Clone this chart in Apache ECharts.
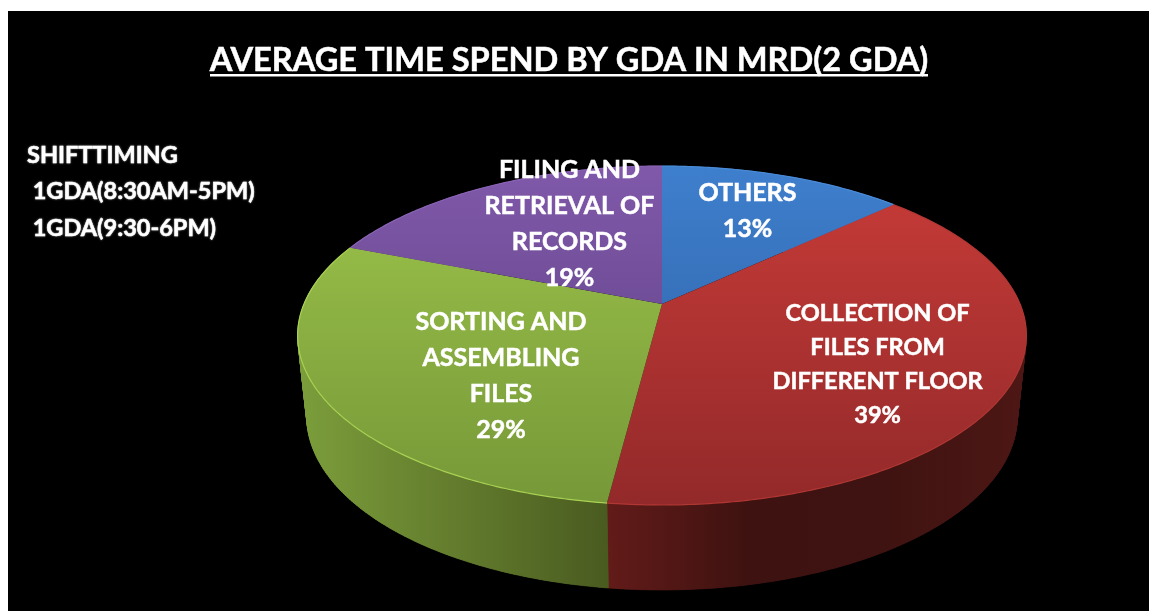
<!DOCTYPE html>
<html><head><meta charset="utf-8">
<style>html,body{margin:0;padding:0;background:#fff}#c{width:1149px;height:611px}</style>
<script src="https://cdn.jsdelivr.net/npm/echarts@6/dist/echarts.min.js"></script>
</head><body><div id="c"></div>
<script>
const titleText = 'AVERAGE TIME SPEND BY GDA IN MRD(2 GDA)';
const noteLines = ['SHIFTTIMING', ' 1GDA(8:30AM-5PM)', ' 1GDA(9:30-6PM)'];
const categories = ['OTHERS', 'COLLECTION OF\nFILES FROM\nDIFFERENT FLOOR', 'SORTING AND\nASSEMBLING\nFILES', 'FILING AND\nRETRIEVAL OF\nRECORDS'];
const values = [13, 39, 29, 19];

// Styling and view geometry, kept apart from the data
const faceColors = [['#3e7fcd','#2d5c9e'],['#c83c38','#93292a'],['#9dc44b','#769838'],['#8059aa','#5a3d7e']];
const wallColors = [['#24497e','#2d5c9e'],['#621b19','#3e1210','#3f1311','#4d1715'],['#7c9e3b','#4a5b20'],['#46305f','#5a3d7e']];
const rimColors = ['#4a8bd8','#b03733','#a9d153','#8a63b5'];
const labelShift = [[8,-47],[14,-55],[35,-53],[18,-78]];
const labelSize = [25,23.6,25,25];
const labelLine = [36,34,36,36];
const view = {cx:662, cy:304, R:358, S:163.6, k:-0.186, wallScale:0.975, wallBase:80, wallTilt:5};
const font = 'Lato, "Open Sans", sans-serif';
const total = values.reduce((a,b)=>a+b,0);

function project(a, r){
  const u = r*Math.sin(a), v = -r*Math.cos(a), w = 1+view.k*v;
  return [view.cx+view.R*u/w, view.cy+view.S*v/w, v];
}
function lower(p){
  return [view.cx+(p[0]-view.cx)*view.wallScale, p[1]+view.wallBase+view.wallTilt*p[2]];
}
function span(i){
  let s=0; for(let j=0;j<i;j++) s+=values[j];
  return [s/total*2*Math.PI,(s+values[i])/total*2*Math.PI];
}
function arc(i){
  const [a,b]=span(i), n=Math.max(8,Math.ceil((b-a)*90)), pts=[];
  for(let t=0;t<=n;t++) pts.push(project(a+(b-a)*t/n,1));
  return pts;
}
function grad(x,y,x2,y2,c){
  return {type:'linear',global:true,x,y,x2,y2,colorStops:c.map((col,j)=>({offset:j/(c.length-1),color:col}))};
}
function renderWall(params){
  const i=params.dataIndex, top=arc(i), xs=top.map(p=>p[0]);
  const fill=grad(Math.min(...xs),0,Math.max(...xs),0,wallColors[i]);
  const children=[{type:'polygon',shape:{points:top.map(p=>[p[0],p[1]]).concat(top.map(lower).reverse())},style:{fill}}];
  for(let t=0;t<top.length-1;t++){
    const p=top[t], q=top[t+1], pl=lower(p), ql=lower(q);
    children.push({type:'polygon',shape:{points:[[p[0],p[1]],[q[0],q[1]],ql,pl]},
      style:{fill,stroke:fill,lineWidth:0.6}});
  }
  return {type:'group',children};
}
function renderFace(params){
  const i=params.dataIndex, top=arc(i), [a,b]=span(i), m=project((a+b)/2,0.6);
  const outline=top.map(p=>[p[0],p[1]]);
  return {type:'group',children:[
    {type:'polygon',shape:{points:[[view.cx,view.cy]].concat(outline)},
      style:{fill:grad(0,view.cy-138,0,view.cy+201,faceColors[i])}},
    {type:'polyline',shape:{points:outline},style:{fill:null,stroke:rimColors[i],lineWidth:1.2}},
    {type:'text',z2:10,x:m[0]+labelShift[i][0],y:m[1]+labelShift[i][1],
      style:{text:categories[i]+'\n'+values[i]+'%',fill:'#fff',stroke:'#fff',lineWidth:0.5,font:'bold '+labelSize[i]+'px '+font,lineHeight:labelLine[i],align:'center',verticalAlign:'top'}}
  ]};
}
const rows=values.map((v,i)=>[i,v]);
const chart=echarts.init(document.getElementById('c'),null,{renderer:'canvas'});
chart.setOption({
  animation:false,
  backgroundColor:'#fff',
  title:{text:titleText,left:564,top:39,textAlign:'center',textStyle:{color:'#fff',fontFamily:font,fontWeight:'bold',fontSize:32.6,textBorderColor:'#fff',textBorderWidth:0.5}},
  graphic:[
    {type:'rect',z:-10,shape:{x:8,y:11,width:1141,height:600},style:{fill:'#000'}},
    {type:'rect',z:5,shape:{x:210,y:74,width:718,height:2.5},style:{fill:'#fff'}},
    {type:'text',z:5,x:27,y:137,style:{text:noteLines.join('\n'),fill:'#fff',stroke:'#fff',lineWidth:0.5,font:'bold 23.5px '+font,lineHeight:36.5,textShadowColor:'rgba(255,255,255,.5)',textShadowBlur:2}}
  ],
  series:[
    {type:'custom',coordinateSystem:'none',silent:true,z:1,renderItem:renderWall,data:rows},
    {type:'custom',coordinateSystem:'none',silent:true,z:2,renderItem:renderFace,data:rows}
  ]
});
</script></body></html>
